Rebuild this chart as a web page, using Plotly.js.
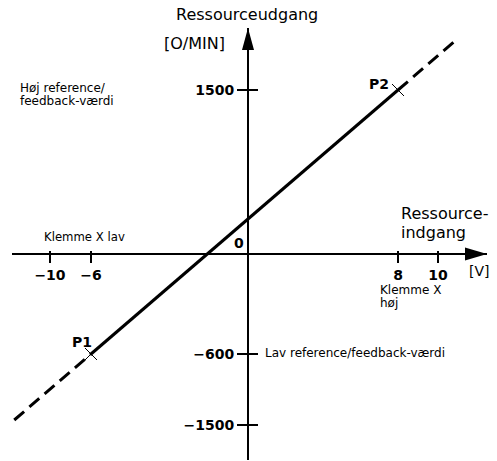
<!DOCTYPE html>
<html>
<head>
<meta charset="utf-8">
<script src="https://cdn.plot.ly/plotly-3.0.1.min.js"></script>
<style>html,body{margin:0;padding:0;background:#fff;}#chart{width:497px;height:461px;}</style>
</head>
<body>
<div id="chart"></div>
<script>
// ---- data ----
const xTickValues = [-10, -6, 8, 10];          // input [V]
const yTickValues = [1500, -600, -1500];       // output [O/MIN]
const pointNames = ['P1', 'P2'];
const pointVolts = [-6, 8];
const pointRpm = [-600, 1500];

// ---- schematic (not-to-scale) axis scales: value -> drawing unit ----
const xScaleIn = [-10, -6, 0, 8, 10], xScaleOut = [50, 91, 248, 398, 438];
const yScaleIn = [-1500, -600, 0, 1500], yScaleOut = [425, 354, 254, 90];
function piecewise(ins, outs, v) {
  let i = 0;
  if (v <= ins[0]) i = 0; else if (v >= ins[ins.length - 1]) i = ins.length - 2;
  else { while (v > ins[i + 1]) i++; }
  const t = (v - ins[i]) / (ins[i + 1] - ins[i]);
  return outs[i] + t * (outs[i + 1] - outs[i]);
}
const sx = v => piecewise(xScaleIn, xScaleOut, v);
const sy = v => piecewise(yScaleIn, yScaleOut, v);
const fmt = v => (v < 0 ? '\u2212' + Math.abs(v) : String(v));

const W = 497, H = 461;
const X0 = 12, X1 = 487, YB = 460, YT = 28;
const AX_Y = sy(0), AX_X = sx(0);
const px = x => x / W, py = y => 1 - y / H;

// line points in drawing units
const lx = pointVolts.map(sx), ly = pointRpm.map(sy);
const dx = lx[1] - lx[0], dy = ly[1] - ly[0];
const extLow = -0.25, extHigh = 1.19;

const FONT = 'DejaVu Sans, Verdana, sans-serif';

const traces = [
  { // solid segment P1-P2
    x: lx, y: ly, type: 'scatter', mode: 'lines',
    line: { color: '#000', width: 3 }, hoverinfo: 'skip', showlegend: false
  },
  { // dashed extensions
    x: [lx[0] + extLow * dx, lx[0], null, lx[1], lx[0] + extHigh * dx],
    y: [ly[0] + extLow * dy, ly[0], null, ly[1], ly[0] + extHigh * dy],
    type: 'scatter', mode: 'lines', connectgaps: false,
    line: { color: '#000', width: 3, dash: '13px,7px' }, hoverinfo: 'skip', showlegend: false
  },
  { // P markers
    x: lx, y: ly, type: 'scatter', mode: 'markers', cliponaxis: false,
    marker: { symbol: 'x-thin-open', size: 12, color: '#000', line: { color: '#000', width: 1 } },
    hoverinfo: 'skip', showlegend: false
  },
  { x: [], y: [], xaxis: 'x2', yaxis: 'y2', type: 'scatter', showlegend: false, hoverinfo: 'skip' }
];

const xTickPos = xTickValues.map(sx), yTickPos = yTickValues.map(sy);
const tickFont = { family: FONT, size: 14, color: '#000', weight: 'bold' };
const commonX = { domain: [px(X0), px(X1)], range: [X0, X1], anchor: 'free', position: py(AX_Y),
  showgrid: false, zeroline: false, fixedrange: true, automargin: false, tickmode: 'array', tickvals: xTickPos };
const commonY = { domain: [py(YB), py(YT)], range: [YB, YT], anchor: 'free', position: px(AX_X),
  showgrid: false, zeroline: false, fixedrange: true, automargin: false, tickmode: 'array', tickvals: yTickPos };

const ann = [];
function txt(text, x, y, size, opts) {
  ann.push(Object.assign({ text: text, x: px(x), y: py(y), xref: 'paper', yref: 'paper', showarrow: false,
    xanchor: 'center', yanchor: 'middle', font: { family: FONT, size: size, color: '#000' } }, opts || {}));
}
const bold = s => ({ font: { family: FONT, size: s, color: '#000', weight: 'bold' } });
txt('Ressourceudgang', 247, 15, 16);
txt('[O/MIN]', 194, 43, 16);
txt('Høj reference/', 18, 88, 12, { xanchor: 'left' });
txt('feedback-værdi', 18, 101, 12, { xanchor: 'left' });
txt('Klemme X lav', 42, 237, 11.7, { xanchor: 'left' });
txt('0', 239, 243, 14, bold(14));
txt('Ressource-', 399, 213, 16, { xanchor: 'left' });
txt('indgang', 399, 232, 16, { xanchor: 'left' });
txt('[V]', 479, 271, 14);
txt('Klemme X', 378, 290, 12, { xanchor: 'left' });
txt('høj', 378, 303, 12, { xanchor: 'left' });
txt('Lav reference/feedback-værdi', 263, 353, 12, { xanchor: 'left' });
txt(pointNames[0], lx[0] - 9, ly[0] - 12, 14, bold(14));
txt(pointNames[1], lx[1] - 19, ly[1] - 6, 14, bold(14));

const shapes = [
  { type: 'path', xref: 'paper', yref: 'paper', fillcolor: '#000', line: { width: 0 },
    path: `M${px(X1)},${py(AX_Y)} L${px(X1 - 22)},${py(AX_Y - 6.5)} L${px(X1 - 22)},${py(AX_Y + 6.5)} Z` },
  { type: 'path', xref: 'paper', yref: 'paper', fillcolor: '#000', line: { width: 0 },
    path: `M${px(AX_X)},${py(YT)} L${px(AX_X - 6)},${py(YT + 22)} L${px(AX_X + 6)},${py(YT + 22)} Z` }
];

const layout = {
  width: W, height: H, margin: { l: 0, r: 0, t: 0, b: 0 },
  paper_bgcolor: '#fff', plot_bgcolor: 'rgba(0,0,0,0)', showlegend: false,
  xaxis: Object.assign({}, commonX, { showline: true, linecolor: '#000', linewidth: 2,
    ticks: 'outside', ticklen: 8, tickwidth: 1.5, tickcolor: '#000',
    ticktext: xTickValues.map(fmt), tickfont: tickFont }),
  yaxis: Object.assign({}, commonY, { showline: true, linecolor: '#000', linewidth: 2,
    ticks: 'outside', ticklen: 10, tickwidth: 1.5, tickcolor: '#000',
    ticktext: yTickValues.map(fmt), tickfont: tickFont }),
  xaxis2: Object.assign({}, commonX, { overlaying: 'x', showline: false, ticks: 'inside', ticklen: 3,
    tickwidth: 1.5, tickcolor: '#000', showticklabels: false }),
  yaxis2: Object.assign({}, commonY, { overlaying: 'y', side: 'left', showline: false, ticks: 'inside', ticklen: 9,
    tickwidth: 1.5, tickcolor: '#000', showticklabels: false }),
  annotations: ann, shapes: shapes
};

Plotly.newPlot('chart', traces, layout, { staticPlot: true, displayModeBar: false });
</script>
</body>
</html>
